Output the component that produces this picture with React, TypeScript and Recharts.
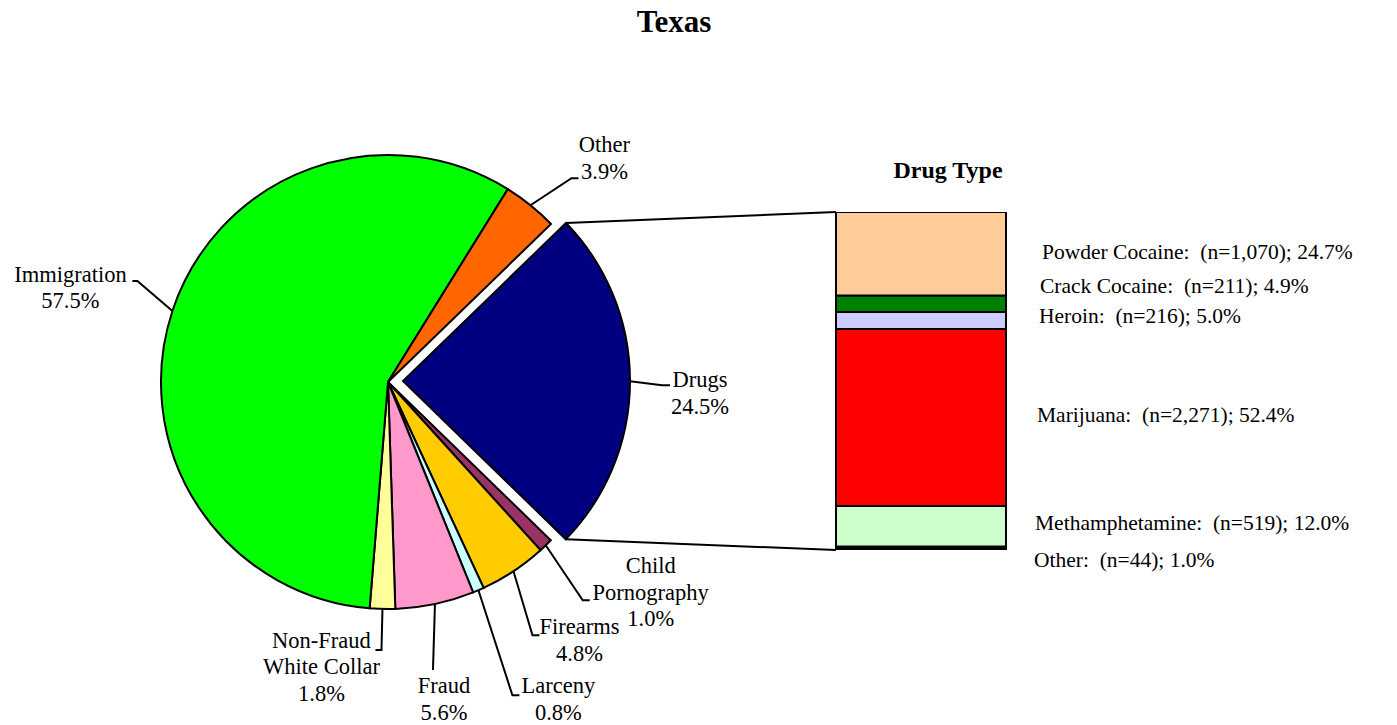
import React from "react";
import { PieChart, Pie, Cell, BarChart, Bar, XAxis, YAxis } from "recharts";

// ---------- Data ----------
const categories = [
  "Drugs",
  "Child Pornography",
  "Firearms",
  "Larceny",
  "Fraud",
  "Non-Fraud White Collar",
  "Immigration",
  "Other",
];
const shares = [24.5, 1.0, 4.8, 0.8, 5.6, 1.8, 57.5, 3.9];
const sliceColors = [
  "#000080",
  "#993366",
  "#FFCC00",
  "#CCFFFF",
  "#FF99CC",
  "#FFFF99",
  "#00FF00",
  "#FF6600",
];

const drugTypes = ["Powder Cocaine", "Crack Cocaine", "Heroin", "Marijuana", "Methamphetamine", "Other"];
const drugCounts = ["1,070", "211", "216", "2,271", "519", "44"];
const drugPercents = [24.7, 4.9, 5.0, 52.4, 12.0, 1.0];
const drugColors = ["#FFCC99", "#008000", "#CCCCFF", "#FF0000", "#CCFFCC", "#000000"];

// ---------- Layout / style ----------
const W = 1397;
const H = 725;
const FONT = '"Liberation Serif", "Times New Roman", serif';
const PIE_CX = 388;
const PIE_CY = 382;
const EXPLODE = 15;
const R = 227;
const START = 44.1;
const BAR_MARGIN = { left: 836, right: W - 1006, top: 212, bottom: H - 550 };
const LABEL_SIZE = 22.5;
const LINE_GAP = 26.5;

const labelText: Record<string, string[]> = {
  "Child Pornography": ["Child", "Pornography"],
  "Non-Fraud White Collar": ["Non-Fraud", "White Collar"],
};
// elbow offset from slice edge (ex, ey), horizontal tail (hx), text centre offset from tail end (tx, ty)
const labelLayout: Record<string, { ex: number; ey: number; hx: number; tx: number; ty: number }> = {
  Immigration: { ex: -35, ey: -30, hx: -5, tx: -62, ty: 1 },
  Other: { ex: 41, ey: -27, hx: 7, tx: 26, ty: -26 },
  Drugs: { ex: 32, ey: 4, hx: 8, tx: 30, ty: 2 },
  "Child Pornography": { ex: 37, ey: 55, hx: 7, tx: 61, ty: -27 },
  Firearms: { ex: 19, ey: 64, hx: 7, tx: 40, ty: -1 },
  Larceny: { ex: 34, ey: 105, hx: 7, tx: 39, ty: -2 },
  Fraud: { ex: -2, ey: 66, hx: 0, tx: 11, ty: 23 },
  "Non-Fraud White Collar": { ex: -1, ey: 41, hx: -6, tx: -54, ty: -2 },
};
// drug-type legend nudges: [dx from bar right, baseline offset from segment middle]
const drugLabelNudge = [
  [36, 5],
  [34, -11],
  [33, 2.5],
  [31, 4.5],
  [29, 3.6],
  [28, 18.7],
];

const pieData = categories.map((name, i) => ({ name, value: shares[i] }));

const barRow: Record<string, number | string> = { name: "Drugs" };
drugTypes.forEach((t, i) => {
  barRow[t] = drugPercents[i];
});
const barData = [barRow];

const RAD = Math.PI / 180;
const polar = (cx: number, cy: number, r: number, a: number) => ({
  x: cx + r * Math.cos(a * RAD),
  y: cy - r * Math.sin(a * RAD),
});

function renderPieLabel(props: any, exploded: boolean) {
  const { cx, cy, midAngle, outerRadius, name, startAngle, endAngle } = props;
  const isDrugs = name === "Drugs";
  if (isDrugs !== exploded) return null;
  const lay = labelLayout[name];
  const e = polar(cx, cy, outerRadius, midAngle);
  const elbow = { x: e.x + lay.ex, y: e.y + lay.ey };
  const end = { x: elbow.x + lay.hx, y: elbow.y };
  const lines = [...(labelText[name] || [name]), `${shares[categories.indexOf(name)].toFixed(1)}%`];
  const tx = end.x + lay.tx;
  const ty = end.y + lay.ty;
  let connectors: React.ReactNode = null;
  if (isDrugs) {
    const s = polar(cx, cy, outerRadius, startAngle);
    const f = polar(cx, cy, outerRadius, endAngle);
    connectors = (
      <g>
        <line x1={s.x} y1={s.y} x2={BAR_MARGIN.left} y2={BAR_MARGIN.top} stroke="#000" strokeWidth={2} />
        <line x1={f.x} y1={f.y} x2={BAR_MARGIN.left} y2={H - BAR_MARGIN.bottom} stroke="#000" strokeWidth={2} />
      </g>
    );
  }
  return (
    <g key={name}>
      {connectors}
      <polyline
        points={`${e.x},${e.y} ${elbow.x},${elbow.y} ${end.x},${end.y}`}
        fill="none"
        stroke="#000"
        strokeWidth={2}
      />
      <text x={tx} y={ty} textAnchor="middle" fontFamily={FONT} fontSize={LABEL_SIZE} fill="#000">
        {lines.map((l, i) => (
          <tspan key={i} x={tx} y={ty + i * LINE_GAP}>
            {l}
          </tspan>
        ))}
      </text>
    </g>
  );
}

function drugLabel(i: number) {
  return (props: any) => {
    const { x, y, width, height } = props;
    const [dx, dy] = drugLabelNudge[i];
    return (
      <text
        x={Number(x) + Number(width) + dx}
        y={Number(y) + Number(height) / 2 + dy}
        fontFamily={FONT}
        fontSize={21.5}
        fill="#000"
      >
        {`${drugTypes[i]}:\u00a0\u00a0(n=${drugCounts[i]}); ${drugPercents[i].toFixed(1)}%`}
      </text>
    );
  };
}

export default function App() {
  const bottomUp = drugTypes.map((_, i) => i).reverse();
  return (
    <div style={{ position: "relative", width: W, height: H, background: "#fff" }}>
      <style>{`body{margin:0}`}</style>
      <div style={{ position: "absolute", left: 0, top: 0 }}>
        <PieChart width={W} height={H} margin={{ top: 0, right: 0, bottom: 0, left: 0 }}>
          <text x={674} y={32} textAnchor="middle" fontFamily={FONT} fontSize={31} fontWeight="bold" fill="#000">
            Texas
          </text>
          <text x={948} y={178} textAnchor="middle" fontFamily={FONT} fontSize={24} fontWeight="bold" fill="#000">
            Drug Type
          </text>
          <Pie
            data={pieData}
            dataKey="value"
            nameKey="name"
            cx={PIE_CX}
            cy={PIE_CY}
            outerRadius={R}
            startAngle={START}
            endAngle={START - 360}
            stroke="#000"
            strokeWidth={2}
            isAnimationActive={false}
            labelLine={false}
            label={(p: any) => renderPieLabel(p, false)}
          >
            {pieData.map((d, i) => (
              <Cell
                key={d.name}
                fill={d.name === "Drugs" ? "none" : sliceColors[i]}
                stroke={d.name === "Drugs" ? "none" : "#000"}
              />
            ))}
          </Pie>
          <Pie
            data={pieData}
            dataKey="value"
            nameKey="name"
            cx={PIE_CX + EXPLODE}
            cy={PIE_CY - 1}
            outerRadius={R}
            startAngle={START}
            endAngle={START - 360}
            stroke="#000"
            strokeWidth={2}
            isAnimationActive={false}
            labelLine={false}
            label={(p: any) => renderPieLabel(p, true)}
          >
            {pieData.map((d, i) => (
              <Cell
                key={d.name}
                fill={d.name === "Drugs" ? sliceColors[i] : "none"}
                stroke={d.name === "Drugs" ? "#000" : "none"}
              />
            ))}
          </Pie>
        </PieChart>
      </div>
      <div style={{ position: "absolute", left: 0, top: 0 }}>
        <BarChart width={W} height={H} data={barData} margin={BAR_MARGIN} barCategoryGap={0}>
          <XAxis dataKey="name" hide />
          <YAxis hide domain={[0, 100]} allowDataOverflow />
          {bottomUp.map((i) => (
            <Bar
              key={drugTypes[i]}
              dataKey={drugTypes[i]}
              stackId="d"
              fill={drugColors[i]}
              stroke="#000"
              strokeWidth={2}
              isAnimationActive={false}
              label={drugLabel(i)}
            />
          ))}
        </BarChart>
      </div>
    </div>
  );
}
